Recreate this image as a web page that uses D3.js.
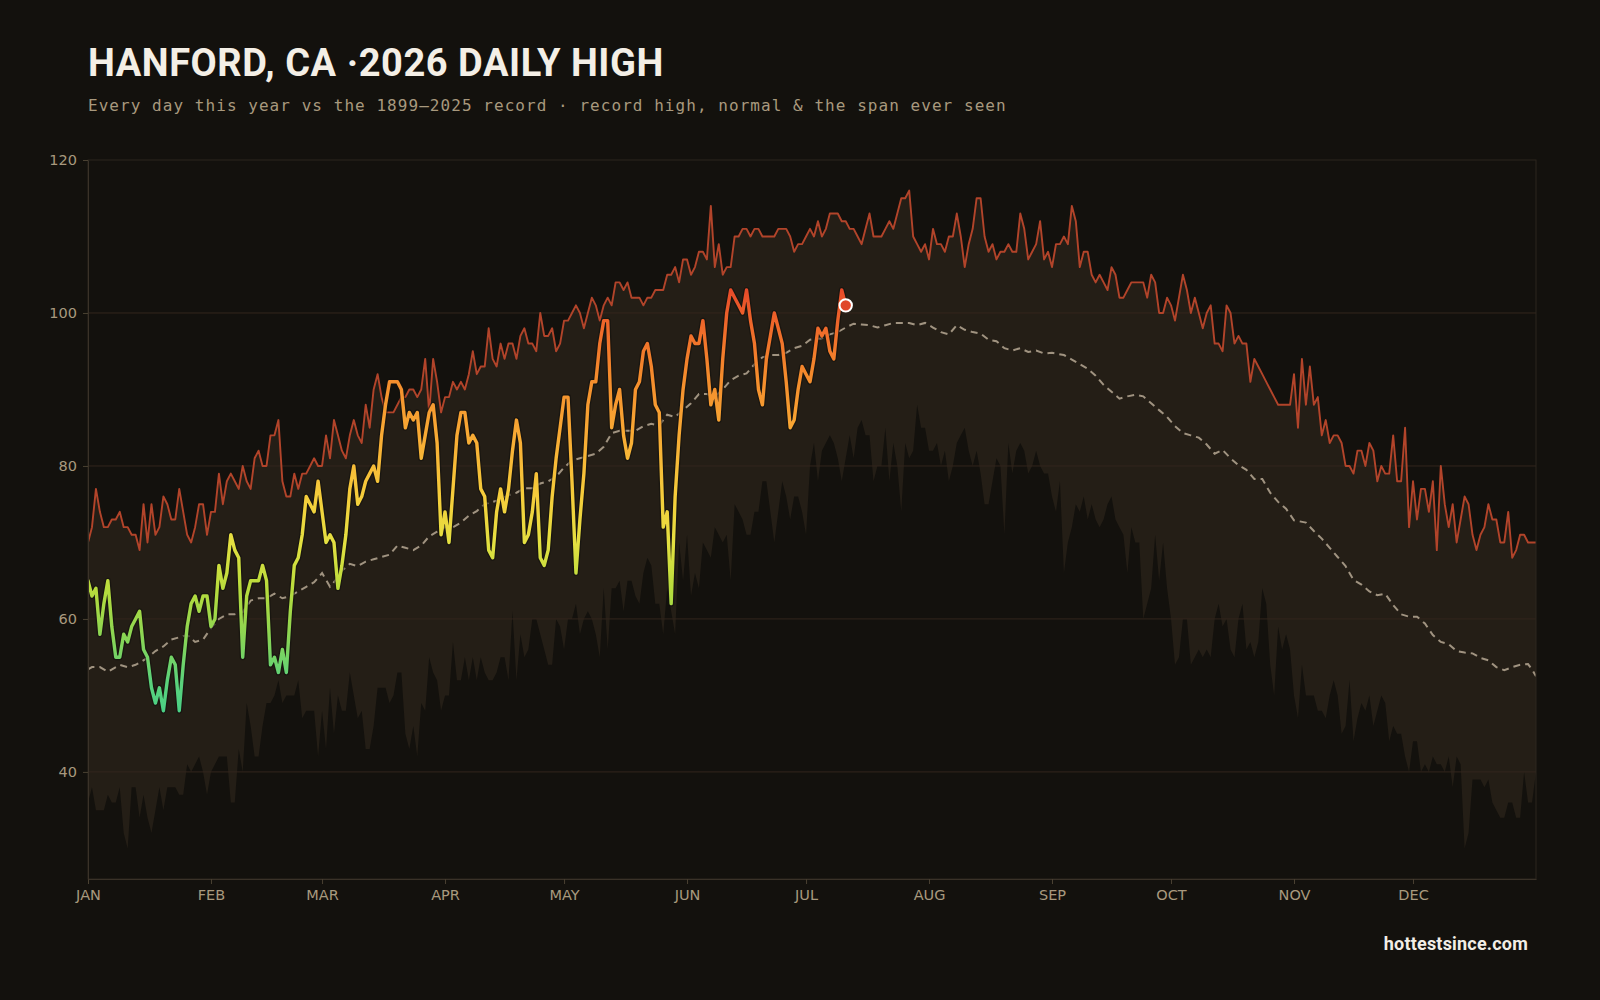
<!DOCTYPE html>
<html>
<head>
<meta charset="utf-8">
<script src="https://cdn.jsdelivr.net/npm/d3@7"></script>
<style>
  body { margin: 0; background: #13110d; }
  svg { display: block; }
</style>
</head>
<body>
<div id="chart"></div>
<script>
// month labels and their day-of-year
const months = ['JAN','FEB','MAR','APR','MAY','JUN','JUL','AUG','SEP','OCT','NOV','DEC'];
const monthStarts = [0,31,59,90,120,151,181,212,243,273,304,334];
const yTicks = [40,60,80,100,120];

// record high, 1899-2025, one value per day of year (366)
const recordHigh = [
70,72,77,74,72,72,73,73,74,72,72,71,71,69,75,70,75,71,72,76,75,73,73,77,74,71,70,72,75,75,71,
74,74,79,75,78,79,78,77,80,78,77,81,82,80,80,84,84,86,78,76,76,79,77,79,79,80,81,80,80,84,81,
86,84,82,81,84,86,84,83,88,85,90,92,89,87,87,87,88,89,89,90,90,89,90,94,87,94,91,87,89,89,91,
90,91,90,92,95,92,93,93,98,94,93,96,94,96,96,94,97,98,96,96,95,100,97,97,98,95,96,99,99,
100,101,100,98,100,102,101,99,101,102,101,104,104,103,104,102,102,102,101,102,102,103,103,103,105,105,106,104,107,107,105,
106,108,108,107,114,106,109,105,106,106,110,110,111,111,110,111,111,110,110,110,110,111,111,111,110,108,109,109,110,111,
110,112,110,111,113,113,113,112,112,111,111,110,109,111,113,110,110,110,111,112,111,113,115,115,116,110,109,108,109,107,111,
109,109,108,110,110,113,110,106,109,111,115,115,110,108,109,107,108,108,109,108,108,113,111,107,108,109,112,107,108,106,
109,109,110,109,114,112,106,108,108,105,104,105,104,103,106,105,102,102,103,104,104,104,104,102,105,104,100,100,102,101,
99,102,105,103,100,102,100,98,100,101,96,96,95,101,100,96,97,96,96,91,94,93,92,91,90,89,88,88,88,88,92,
85,94,88,93,88,89,84,86,83,84,84,83,80,80,79,82,82,80,83,82,78,80,79,79,84,78,78,85,72,78,
73,77,77,74,78,69,80,75,72,75,70,73,76,75,71,69,71,72,75,73,73,70,70,74,68,69,71,71,70,70,70
];

// record low daily high, 1899-2025 (366)
const recordLow = [
36,38,35,35,35,37,36,36,38,32,30,38,38,34,37,34,32,35,38,35,38,38,38,37,37,41,40,41,42,40,37,
40,41,42,42,42,36,36,43,40,49,46,42,42,46,49,49,50,52,49,50,50,50,52,47,48,48,48,42,48,43,51,
45,50,48,48,53,50,47,48,43,43,46,51,51,51,49,50,53,53,45,43,46,42,49,48,55,53,52,48,50,50,57,
52,52,55,52,55,52,55,53,52,52,53,55,55,52,61,52,58,55,56,60,60,58,56,54,54,60,59,56,60,
60,62,58,60,61,60,58,55,64,56,64,64,65,61,65,65,63,62,66,68,67,62,62,58,64,61,58,70,65,71,
63,66,64,70,69,68,72,71,70,71,65,75,74,73,71,71,74,74,78,78,74,70,74,78,76,73,76,76,74,71,80,83,
78,82,83,84,83,81,78,81,84,81,85,86,84,84,78,80,80,85,78,83,80,74,83,81,82,88,85,85,82,82,
83,80,82,78,80,83,84,85,82,80,82,79,75,75,78,81,80,71,83,79,82,83,82,79,80,82,80,79,79,76,
74,78,66,70,72,75,74,76,73,75,73,72,73,75,76,73,72,71,66,72,70,70,60,62,64,71,65,70,64,60,
54,55,60,60,54,55,56,55,56,55,60,62,59,60,56,55,60,62,56,57,55,57,64,62,54,50,59,56,58,56,50,
47,54,50,50,50,48,48,47,50,52,50,45,46,52,44,47,49,48,50,46,48,50,49,44,46,45,45,42,40,
44,44,40,41,40,42,41,41,40,42,38,42,41,30,32,39,39,39,38,39,36,35,34,34,36,36,34,34,40,36,36,40
];

// normal daily high, read every ~2 days
const normalDays = [
0,1,3,5,8,10,12,15,17,19,21,23,25,27,29,31,33,35,37,39,41,43,45,47,49,51,53,55,57,59,61,
62,64,66,68,70,72,74,76,78,80,82,84,86,88,90,92,94,96,98,100,102,104,106,108,110,112,114,116,118,120,122,
124,126,128,130,132,134,136,138,140,142,144,146,148,150,152,154,156,158,160,162,164,166,168,170,172,174,176,178,180,182,
185,187,189,191,193,195,197,199,201,203,205,207,209,211,213,215,217,219,221,223,225,227,229,231,233,235,237,239,241,243,
246,248,250,252,254,256,258,260,262,264,266,268,270,272,274,276,278,280,282,284,286,288,290,292,294,296,298,300,302,304,
307,309,311,313,315,317,319,321,323,325,327,329,331,333,335,337,339,341,343,345,347,349,351,353,355,357,359,361,363,364,365
];
const normalTemps = [
53.4,53.7,53.7,53.1,54,53.7,54,54.9,55.8,56.4,57.3,57.6,57.9,57,57.3,58.8,60,60.6,60.6,60.9,62.4,62.7,62.7,63.3,62.7,63,63.6,64.2,64.8,66,64.2,
64.8,66.3,67.2,66.9,67.5,67.8,68.1,68.4,69.6,69.3,69,69.6,70.8,71.4,72,72,72.6,73.5,74.1,75,75.3,75.6,76.2,76.5,77.1,77.1,77.7,78,78.6,79.8,80.7,
81,81.3,81.6,82.5,84.3,84.6,84.6,84.6,85.2,85.5,85.3,86.7,86.4,87.3,88.2,89.4,89.4,89.1,90,91.2,91.8,92.1,93.3,94.2,94.5,94.5,94.8,95.4,95.7,96.5,
96.7,97.2,97.5,98.1,98.6,98.5,98.4,98.1,98.4,98.7,98.7,98.7,98.4,98.7,98.1,97.5,97.2,98.4,97.8,97.5,97.3,96.5,96.3,95.4,95.1,95.4,94.9,95.1,94.7,94.8,
94.5,93.9,93.3,92.7,91.8,90.6,89.7,88.8,89.1,89.3,89.1,88.2,87.3,86.4,85.2,84.3,84,83.7,82.8,81.6,82.1,81,80.1,79.5,78.3,78.3,76.5,75.3,74.4,72.9,
72.6,71.5,70.5,69.3,68.1,66.9,65.1,64.5,63.6,63.1,63.3,61.8,60.6,60.3,60.3,59.4,57.9,57,56.7,55.8,55.6,55.5,54.9,54.6,53.7,53.3,53.7,54,54.1,53.4,52.5
];

// 2026 daily high, Jan 1 .. Jul 11
const daily2026 = [
65,63,64,58,62,65,59,55,55,58,57,59,60,61,56,55,51,49,51,48,52,55,54,48,54,59,62,63,61,63,63,
59,60,67,64,66,71,69,68,55,63,65,65,65,67,65,54,55,53,56,53,61,67,68,71,76,75,74,78,74,
70,71,70,64,67,71,77,80,75,76,78,79,80,78,84,88,91,91,91,90,85,87,86,87,81,84,87,88,83,71,74,
70,77,84,87,87,83,84,83,77,76,69,68,74,77,74,77,82,86,83,70,71,74,79,68,67,69,76,81,85,89,
89,78,66,73,79,88,91,91,96,99,99,85,88,90,84,81,83,90,91,95,96,93,88,87,72,74,62,76,84,90,94,
97,96,96,99,94,88,90,86,94,100,103,102,101,100,103,99,96,90,88,94,97,100,98,96,91,85,86,90,93,
92,91,94,98,97,98,95,94,99,103,101
];

const W = 1600, H = 1000;
const plot = {left: 88, right: 1536, top: 160, bottom: 879};

const svg = d3.select('#chart').append('svg')
    .attr('width', W)
    .attr('height', H);

svg.append('rect').attr('width', W).attr('height', H).attr('fill', '#13110d');

const x = d3.scaleLinear().domain([0, 365]).range([plot.left, plot.right]);
const y = d3.scaleLinear().domain([26, 120]).range([plot.bottom, plot.top]);

// temperature colour ramp for this year's line
const tempColor = d3.scaleLinear()
    .domain([45, 52, 58, 64, 70, 76, 84, 92, 98, 104])
    .range(['#3ecf8e','#5cd27a','#8cd552','#b8dc3c','#e4e041','#f5cd3b','#f8aa34','#f48a2c','#ef6a2a','#e6452a']);

const defs = svg.append('defs');
defs.append('clipPath').attr('id', 'plotclip')
  .append('rect')
    .attr('x', plot.left).attr('y', plot.top)
    .attr('width', plot.right - plot.left).attr('height', plot.bottom - plot.top);

const grad = defs.append('linearGradient')
    .attr('id', 'tempgrad')
    .attr('gradientUnits', 'userSpaceOnUse')
    .attr('x1', 0).attr('x2', 0)
    .attr('y1', y(45)).attr('y2', y(104));
tempColor.domain().forEach(t => {
  grad.append('stop')
    .attr('offset', (t - 45) / (104 - 45))
    .attr('stop-color', tempColor(t));
});

// title block
svg.append('text')
    .attr('x', 88).attr('y', 76)
    .attr('fill', '#f4efe6')
    .style('font-family', 'Roboto, "Open Sans", sans-serif')
    .style('font-weight', 700)
    .style('font-size', '38px')
    .style('letter-spacing', '0.55px')
    .text('HANFORD, CA \u00b72026 DAILY HIGH');

svg.append('text')
    .attr('x', 88).attr('y', 111)
    .attr('fill', '#a8997e')
    .style('font-family', '"DejaVu Sans Mono", monospace')
    .style('font-size', '16px')
    .style('letter-spacing', '1.05px')
    .text('Every day this year vs the 1899\u20132025 record \u00b7 record high, normal & the span ever seen');

const g = svg.append('g').attr('clip-path', 'url(#plotclip)');

// record span band
const band = d3.area()
    .x((d, i) => x(i))
    .y0((d, i) => y(recordLow[i]))
    .y1(d => y(d));
g.append('path')
    .datum(recordHigh)
    .attr('d', band)
    .attr('fill', '#241e16');

// gridlines
g.selectAll('line.grid')
  .data(yTicks.filter(t => t < 120))
  .enter().append('line')
    .attr('class', 'grid')
    .attr('x1', plot.left).attr('x2', plot.right)
    .attr('y1', d => y(d)).attr('y2', d => y(d))
    .attr('stroke', '#33261d')
    .attr('stroke-width', 1);

// record high line
g.append('path')
    .datum(recordHigh)
    .attr('d', d3.line().x((d, i) => x(i)).y(d => y(d)))
    .attr('fill', 'none')
    .attr('stroke', '#b2442a')
    .attr('stroke-width', 1.9)
    .attr('stroke-linejoin', 'round');

// normal
g.append('path')
    .datum(normalDays)
    .attr('d', d3.line().x(d => x(d)).y((d, i) => y(normalTemps[i])))
    .attr('fill', 'none')
    .attr('stroke', '#a09380')
    .attr('stroke-width', 2)
    .attr('stroke-dasharray', '7,5');

// 2026 line: dark halo then coloured stroke
const yearLine = d3.line().x((d, i) => x(i)).y(d => y(d));
g.append('path')
    .datum(daily2026)
    .attr('d', yearLine)
    .attr('fill', 'none')
    .attr('stroke', '#13110d')
    .attr('stroke-width', 6)
    .attr('stroke-opacity', 0.6)
    .attr('stroke-linejoin', 'round');
g.append('path')
    .datum(daily2026)
    .attr('d', yearLine)
    .attr('fill', 'none')
    .attr('stroke', 'url(#tempgrad)')
    .attr('stroke-width', 3.4)
    .attr('stroke-linejoin', 'round')
    .attr('stroke-linecap', 'round');

// today marker
const lastI = daily2026.length - 1;
svg.append('circle')
    .attr('cx', x(lastI)).attr('cy', y(daily2026[lastI]))
    .attr('r', 6.2)
    .attr('fill', '#e0462a')
    .attr('stroke', '#ffffff')
    .attr('stroke-width', 2);

// frame
svg.append('rect')
    .attr('x', plot.left).attr('y', plot.top)
    .attr('width', plot.right - plot.left).attr('height', plot.bottom - plot.top)
    .attr('fill', 'none')
    .attr('stroke', '#2c261e');

// axes
const xAxis = svg.append('g')
    .attr('transform', `translate(0,${plot.bottom})`)
    .call(d3.axisBottom(x).tickValues(monthStarts).tickFormat((d, i) => months[i])
      .tickSize(5).tickSizeOuter(0).tickPadding(6));
const yAxis = svg.append('g')
    .attr('transform', `translate(${plot.left},0)`)
    .call(d3.axisLeft(y).tickValues(yTicks).tickSize(5).tickSizeOuter(0).tickPadding(6));

[xAxis, yAxis].forEach(ax => {
  ax.select('.domain').attr('stroke', '#3a3228');
  ax.selectAll('.tick line').attr('stroke', '#4a4132');
  ax.selectAll('.tick text')
    .attr('fill', '#a8997e')
    .style('font-family', '"DejaVu Sans", sans-serif')
    .style('font-size', '14.5px');
});

// footer
svg.append('text')
    .attr('x', 1528).attr('y', 950)
    .attr('text-anchor', 'end')
    .attr('fill', '#f2eee6')
    .style('font-family', 'Roboto, sans-serif')
    .style('font-weight', 700)
    .style('font-size', '18px')
    .style('letter-spacing', '0.2px')
    .text('hottestsince.com');
</script>
</body>
</html>
